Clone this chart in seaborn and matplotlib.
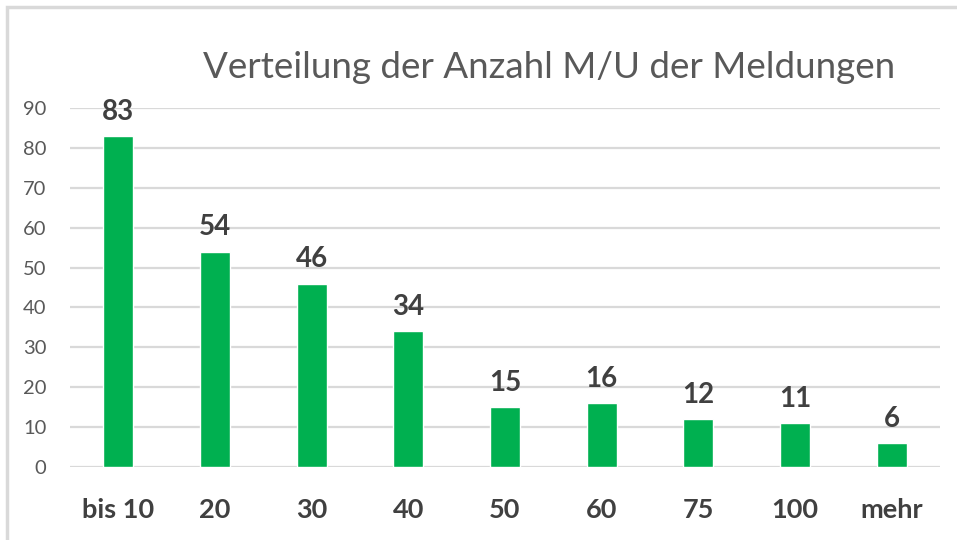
import matplotlib
matplotlib.use('Agg')
import matplotlib.pyplot as plt
from matplotlib.patches import Rectangle
import seaborn as sns
import pandas as pd

# data
categories = ['bis 10', '20', '30', '40', '50', '60', '75', '100', 'mehr']
counts = [83, 54, 46, 34, 15, 16, 12, 11, 6]
y_ticks = [0, 10, 20, 30, 40, 50, 60, 70, 80, 90]

title = 'Verteilung der Anzahl M/U der Meldungen'

GREEN = '#00B050'
GREY_TEXT = '#595959'
DARK_TEXT = '#404040'
GRID = '#D9D9D9'

sns.set_theme(style='white')
plt.rcParams['font.family'] = ['Lato', 'DejaVu Sans']

df = pd.DataFrame({'label': categories, 'data': counts})

fig = plt.figure(figsize=(9.57, 5.4), dpi=100)
fig.patch.set_facecolor('white')

# chart frame (only top and left edges are visible in the crop)
fig.patches.append(Rectangle((7 / 957, -0.1), 1.2, (533 + 54) / 540,
                             transform=fig.transFigure, fill=False,
                             edgecolor=GRID, linewidth=2.5))

ax = fig.add_axes([70 / 957, 73 / 540, 870 / 957, 359 / 540])
sns.barplot(x='label', y='data', data=df, color=GREEN, width=0.31,
            saturation=1, ax=ax)

ax.set_ylim(0, 90)
ax.set_xlim(-0.5, len(categories) - 0.5)
ax.set_yticks(y_ticks)
ax.set_xlabel('')
ax.set_ylabel('')
ax.grid(axis='y', color=GRID, linewidth=1.6)
ax.set_axisbelow(True)
for s in ax.spines.values():
    s.set_visible(False)
ax.tick_params(axis='y', length=0, pad=17, labelsize=14.5, labelcolor=GREY_TEXT)
ax.tick_params(axis='x', length=0, pad=22, labelsize=19.5, labelcolor=DARK_TEXT)
for t in ax.get_xticklabels():
    t.set_fontweight('bold')

for i, v in enumerate(counts):
    ax.annotate(str(v), (i, v), xytext=(0, 8), textcoords='offset points',
                ha='center', va='bottom', fontsize=20, fontweight='bold',
                color=DARK_TEXT)

fig.text(549 / 957, 1 - 68 / 540, title, ha='center', va='center',
         fontsize=26.5, color=GREY_TEXT)

fig.savefig('out.png', dpi=100)
